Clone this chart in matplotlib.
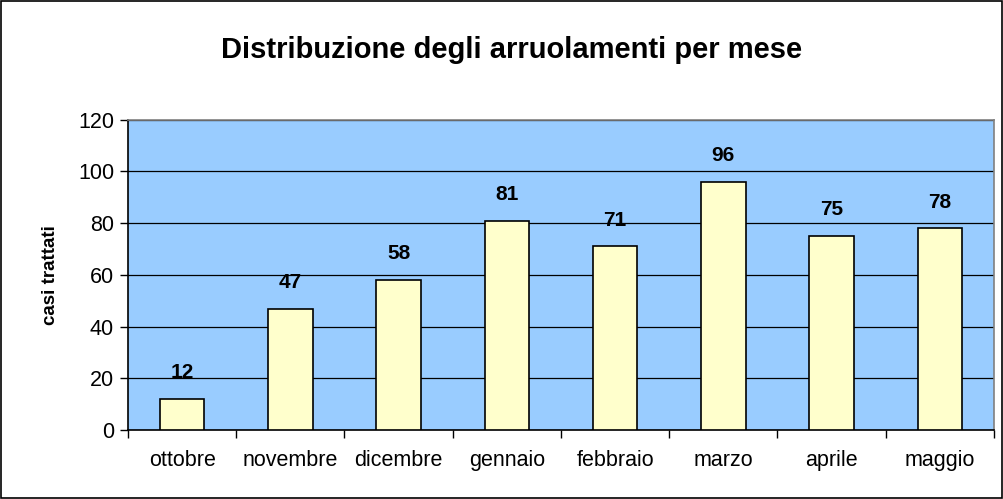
import matplotlib.pyplot as plt
import numpy as np
from matplotlib.patches import Rectangle

plt.rcParams['font.family'] = ['Liberation Sans', 'DejaVu Sans']

mesi = ["ottobre", "novembre", "dicembre", "gennaio", "febbraio", "marzo", "aprile", "maggio"]
casi = [12, 47, 58, 81, 71, 96, 75, 78]


def main():
    fig = plt.figure(figsize=(10.04, 4.99), dpi=100)
    ax = fig.add_axes([0.1275, 0.138, 0.8625, 0.622])
    ax.set_facecolor("#99ccff")

    x = np.arange(len(mesi))
    ax.bar(x, casi, width=0.41, color="#ffffcc", edgecolor="black", linewidth=1.2, zorder=3)

    for xi, v in zip(x, casi):
        ax.annotate(str(v), (xi, v), xytext=(0, 19), textcoords="offset points",
                    ha="center", va="center", fontsize=15, fontweight="bold")

    ax.set_xlim(-0.5, len(mesi) - 0.5)
    ax.set_ylim(0, 120)
    ax.set_yticks(range(0, 121, 20))
    ax.yaxis.grid(True, color="black", linewidth=0.9, zorder=1)
    ax.set_axisbelow(True)

    ax.set_xticks(x)
    ax.set_xticklabels(mesi, fontsize=15.5)
    ax.set_xticks(np.arange(-0.5, len(mesi)), minor=True)
    ax.tick_params(axis="x", which="major", length=0, pad=14)
    ax.tick_params(axis="x", which="minor", length=6, width=1, color="black")
    ax.tick_params(axis="y", length=6, width=1, labelsize=15.5, pad=4)

    ax.spines["top"].set_color("#808080")
    ax.spines["right"].set_color("#808080")
    for s in ax.spines.values():
        s.set_linewidth(1.2)

    ax.set_ylabel("casi trattati", fontsize=13.5, fontweight="bold", labelpad=14)
    fig.text(0.51, 0.9, "Distribuzione degli arruolamenti per mese", ha="center", va="center",
             fontsize=21, fontweight="bold")

    fig.patches.append(Rectangle((0.001, 0.002), 0.997, 0.995, transform=fig.transFigure,
                                 fill=False, edgecolor="black", linewidth=1.2))

    fig.savefig("out.png", dpi=100)


if __name__ == '__main__':
    main()
